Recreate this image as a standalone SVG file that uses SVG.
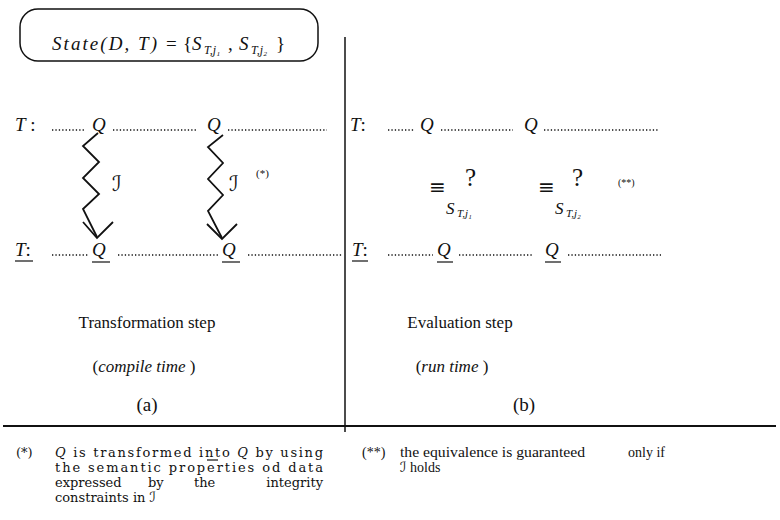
<svg xmlns="http://www.w3.org/2000/svg" width="780" height="520" viewBox="0 0 780 520">
<style>
text{font-family:"Liberation Serif","DejaVu Serif",serif;fill:#111}
.it{font-style:italic}
.m{font-size:19px;font-style:italic}
.cal{font-family:"DejaVu Serif","DejaVu Sans",serif;font-style:italic}
.cap{font-size:17px;text-anchor:middle}
.fn{font-family:"DejaVu Serif",serif;font-size:13px}
.fn2{font-family:"Liberation Serif",serif;font-size:14px}
.eq{font-family:"DejaVu Sans",sans-serif;font-size:20px}
.dots{stroke:#111;stroke-width:1.6;stroke-dasharray:1.3 2.1;fill:none}
.ul{stroke:#111;stroke-width:1.2}
.zz{fill:none;stroke:#111;stroke-width:1.8;stroke-linejoin:miter}
</style>
<rect width="780" height="520" fill="#fff"/>

<g id="state-box">
<rect x="20" y="9" width="298" height="52" rx="18" fill="none" stroke="#111" stroke-width="1.5"/>
<text x="52" y="50" font-size="19" class="it" textLength="105" lengthAdjust="spacing">State(D, T)</text>
<text x="166" y="50" font-size="19">=</text>
<text x="183" y="50" font-size="19">{</text>
<text x="192" y="50" font-size="19" class="it">S</text>
<text x="204" y="54" font-size="12" class="it">T,j₁</text>
<text x="228" y="50" font-size="19">,</text>
<text x="239" y="50" font-size="19" class="it">S</text>
<text x="251" y="54" font-size="12" class="it">T,j₂</text>
<text x="276" y="50" font-size="19">}</text>
</g>

<g id="divider">
<line x1="345" y1="37" x2="345" y2="432" stroke="#111" stroke-width="1.5"/>
</g>

<g id="row-a-T">
<text x="15" y="131" class="m">T<tspan font-style="normal"> :</tspan></text>
<text x="92" y="131" class="m">Q</text>
<text x="207" y="131" class="m">Q</text>
<line class="dots" x1="52" y1="130" x2="86" y2="130"/>
<line class="dots" x1="113" y1="130" x2="197" y2="130"/>
<line class="dots" x1="228" y1="130" x2="327" y2="130"/>
</g>

<g id="row-a-Tu">
<text x="15" y="256" class="m">T<tspan font-style="normal">:</tspan></text>
<line class="ul" x1="15" y1="261" x2="33" y2="261"/>
<text x="92" y="256" class="m">Q</text>
<line class="ul" x1="92" y1="262" x2="110" y2="262"/>
<text x="222" y="256" class="m">Q</text>
<line class="ul" x1="222" y1="262" x2="240" y2="262"/>
<line class="dots" x1="52" y1="255" x2="88" y2="255"/>
<line class="dots" x1="118" y1="255" x2="219" y2="255"/>
<line class="dots" x1="248" y1="255" x2="343" y2="255"/>
</g>

<g id="row-b-T">
<text x="350" y="131" class="m">T<tspan font-style="normal">:</tspan></text>
<text x="420" y="131" class="m">Q</text>
<text x="524" y="131" class="m">Q</text>
<line class="dots" x1="388" y1="130" x2="415" y2="130"/>
<line class="dots" x1="441" y1="130" x2="513" y2="130"/>
<line class="dots" x1="544" y1="130" x2="659" y2="130"/>
</g>

<g id="row-b-Tu">
<text x="352" y="256" class="m">T<tspan font-style="normal">:</tspan></text>
<line class="ul" x1="352" y1="261" x2="368" y2="261"/>
<text x="437" y="256" class="m">Q</text>
<line class="ul" x1="437" y1="262" x2="453" y2="262"/>
<text x="545" y="256" class="m">Q</text>
<line class="ul" x1="545" y1="262" x2="561" y2="262"/>
<line class="dots" x1="388" y1="255" x2="433" y2="255"/>
<line class="dots" x1="459" y1="255" x2="533" y2="255"/>
<line class="dots" x1="568" y1="255" x2="661" y2="255"/>
</g>

<g id="connectors">
<polyline class="zz" points="98,133 83,146 99,162 83,178 99,194 83,209 97,237"/>
<polyline class="zz" points="83,222 97,238 113,222"/>
<polyline class="zz" points="223,135 208,147 223,163 208,179 223,195 208,211 222,238"/>
<polyline class="zz" points="207,224 222,239 237,224"/>
</g>

<g id="labels-a">
<text x="112" y="191" font-size="21" class="cal">ℐ</text>
<text x="229" y="191" font-size="21" class="cal">ℐ</text>
<text x="256" y="177" font-size="11">(*)</text>
</g>

<g id="equiv-1">
<text x="429" y="194" class="eq">≡</text>
<text x="465" y="186" font-size="25">?</text>
<text x="446" y="214" font-size="17" class="it">S</text>
<text x="457" y="217" font-size="11" class="it">T,j₁</text>
</g>
<g id="equiv-2">
<text x="538" y="194" class="eq">≡</text>
<text x="572" y="186" font-size="25">?</text>
<text x="555" y="214" font-size="17" class="it">S</text>
<text x="566" y="217" font-size="11" class="it">T,j₂</text>
<text x="618" y="186" font-size="10">(**)</text>
</g>

<g id="captions">
<text x="147" y="328" class="cap">Transformation step</text>
<text x="460" y="328" class="cap">Evaluation step</text>
<text x="144" y="372" class="cap">(<tspan class="it">compile time</tspan> )</text>
<text x="452" y="372" class="cap">(<tspan class="it">run time</tspan> )</text>
<text x="147" y="411" class="cap" style="font-size:19px">(a)</text>
<text x="524" y="411" class="cap" style="font-size:19px">(b)</text>
</g>

<g id="hrule">
<line x1="3" y1="426" x2="776" y2="426" stroke="#111" stroke-width="2"/>
</g>

<g id="footnote-1">
<text x="16" y="457" class="fn" font-size="11">(*)</text>
<text x="55" y="457" class="fn" textLength="268" lengthAdjust="spacing"><tspan class="it">Q</tspan> is transformed into <tspan class="it">Q</tspan> by using</text>
<line class="ul" x1="207" y1="460" x2="218" y2="460"/>
<text x="55" y="472" class="fn" textLength="268" lengthAdjust="spacing">the semantic properties od data</text>
<text x="55" y="487" class="fn">expressed</text>
<text x="148" y="487" class="fn">by</text>
<text x="194" y="487" class="fn">the</text>
<text x="323" y="487" class="fn" text-anchor="end">integrity</text>
<text x="55" y="502" class="fn">constraints in <tspan class="cal" font-size="14">ℐ</tspan></text>
</g>

<g id="footnote-2">
<text x="362" y="457" class="fn2" font-size="11">(**)</text>
<text x="400" y="457" class="fn2" textLength="185" lengthAdjust="spacingAndGlyphs">the equivalence is guaranteed</text>
<text x="628" y="457" class="fn2">only if</text>
<text x="400" y="472" class="fn2"><tspan class="cal" font-size="14">ℐ</tspan> holds</text>
</g>
</svg>
